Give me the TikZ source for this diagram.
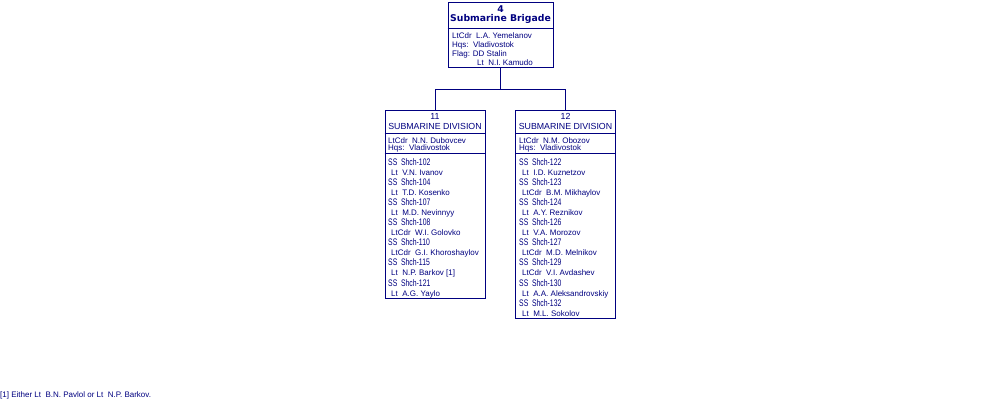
\documentclass[tikz,border=0pt]{standalone}
\usepackage{fontspec}
\setmainfont{Liberation Sans}
\newfontfamily\shipfont[FakeStretch=0.72]{Liberation Sans}
\newfontfamily\headfont{DejaVu Sans}
\definecolor{navy}{RGB}{0,0,128}
\tikzset{
  box/.style={draw=navy, line width=1pt, inner sep=0pt, minimum width=100pt},
  officer/.style={text=navy, inner sep=0pt, anchor=base west, font=\fontsize{8}{9}\selectfont},
  ship/.style={text=navy, inner sep=0pt, anchor=base west, font=\shipfont\fontsize{9.5}{10}\selectfont},
  divtitle/.style={text=navy, inner sep=0pt, anchor=base, font=\fontsize{8.8}{9}\selectfont},
  brigtitle/.style={text=navy, inner sep=0pt, anchor=base, font=\headfont\bfseries\fontsize{9.3}{10}\selectfont},
  sep/.style={draw=navy, line width=1pt},
  link/.style={draw=navy, line width=1pt}
}
\begin{document}
\begin{tikzpicture}[x=1pt,y=-1pt]
\useasboundingbox (0,0) rectangle (1000,400);
% boxes
\node[box, minimum width=105pt, minimum height=65pt] (brig) at (500.5,34.5) {};
\node[box, minimum height=188pt] (div11) at (435,204) {};
\node[box, minimum height=208pt] (div12) at (565.5,214) {};
% connectors
\coordinate (junc) at (500.5,89);
\draw[link] (brig.south) -- (junc) -| (div11.north);
\draw[link] (junc) -| (div12.north);
% brigade box
\node[brigtitle] (bt1) at (500.5,12) {4};
\node[brigtitle] (bt2) at (500.5,21.5) {Submarine Brigade};
\draw[sep] (brig.west |- 0,28) -- (brig.east |- 0,28);
\node[officer] (b1) at (452,38) {LtCdr\ \ L.A. Yemelanov};
\node[officer] (b2) at (452,47) {Hqs:\ \ Vladivostok};
\node[officer] (b3) at (452,56) {Flag: DD Stalin};
\node[officer] (b4) at (477,65) {Lt\ \ N.I. Kamudo};
% division 11
\node[divtitle] (t11a) at (435,119) {11};
\node[divtitle] (t11b) at (435,129) {SUBMARINE DIVISION};
\draw[sep] (div11.west |- 0,133) -- (div11.east |- 0,133);
\node[officer] (c11a) at (388,143) {LtCdr\ \ N.N. Dubovcev};
\node[officer] (c11b) at (388,150.5) {Hqs:\ \ Vladivostok};
\draw[sep] (div11.west |- 0,153.5) -- (div11.east |- 0,153.5);
\foreach \s/\o [count=\i from 0] in {102/{Lt\ \ V.N. Ivanov},104/{Lt\ \ T.D. Kosenko},107/{Lt\ \ M.D. Nevinnyy},108/{LtCdr\ \ W.I. Golovko},110/{LtCdr\ \ G.I. Khoroshaylov},115/{Lt\ \ N.P. Barkov [1]},121/{Lt\ \ A.G. Yaylo}}{
  \node[ship] (s11\i) at (388,165+20.17*\i) {SS\ \ Shch-\s};
  \node[officer] (o11\i) at (391,175+20.17*\i) {\o};
}
% division 12
\node[divtitle] (t12a) at (565.5,119) {12};
\node[divtitle] (t12b) at (565.5,129) {SUBMARINE DIVISION};
\draw[sep] (div12.west |- 0,133) -- (div12.east |- 0,133);
\node[officer] (c12a) at (519,143) {LtCdr\ \ N.M. Obozov};
\node[officer] (c12b) at (519,150.5) {Hqs:\ \ Vladivostok};
\draw[sep] (div12.west |- 0,153.5) -- (div12.east |- 0,153.5);
\foreach \s/\o [count=\i from 0] in {122/{Lt\ \ I.D. Kuznetzov},123/{LtCdr\ \ B.M. Mikhaylov},124/{Lt\ \ A.Y. Reznikov},126/{Lt\ \ V.A. Morozov},127/{LtCdr\ \ M.D. Melnikov},129/{LtCdr\ \ V.I. Avdashev},130/{Lt\ \ A.A. Aleksandrovskiy},132/{Lt\ \ M.L. Sokolov}}{
  \node[ship] (s12\i) at (519,165+20.17*\i) {SS\ \ Shch-\s};
  \node[officer] (o12\i) at (522,175+20.17*\i) {\o};
}
% footnote
\node[officer] (fn) at (0,397) {[1] Either Lt\ \ B.N. Pavlol or Lt\ \ N.P. Barkov.};
\end{tikzpicture}
\end{document}
